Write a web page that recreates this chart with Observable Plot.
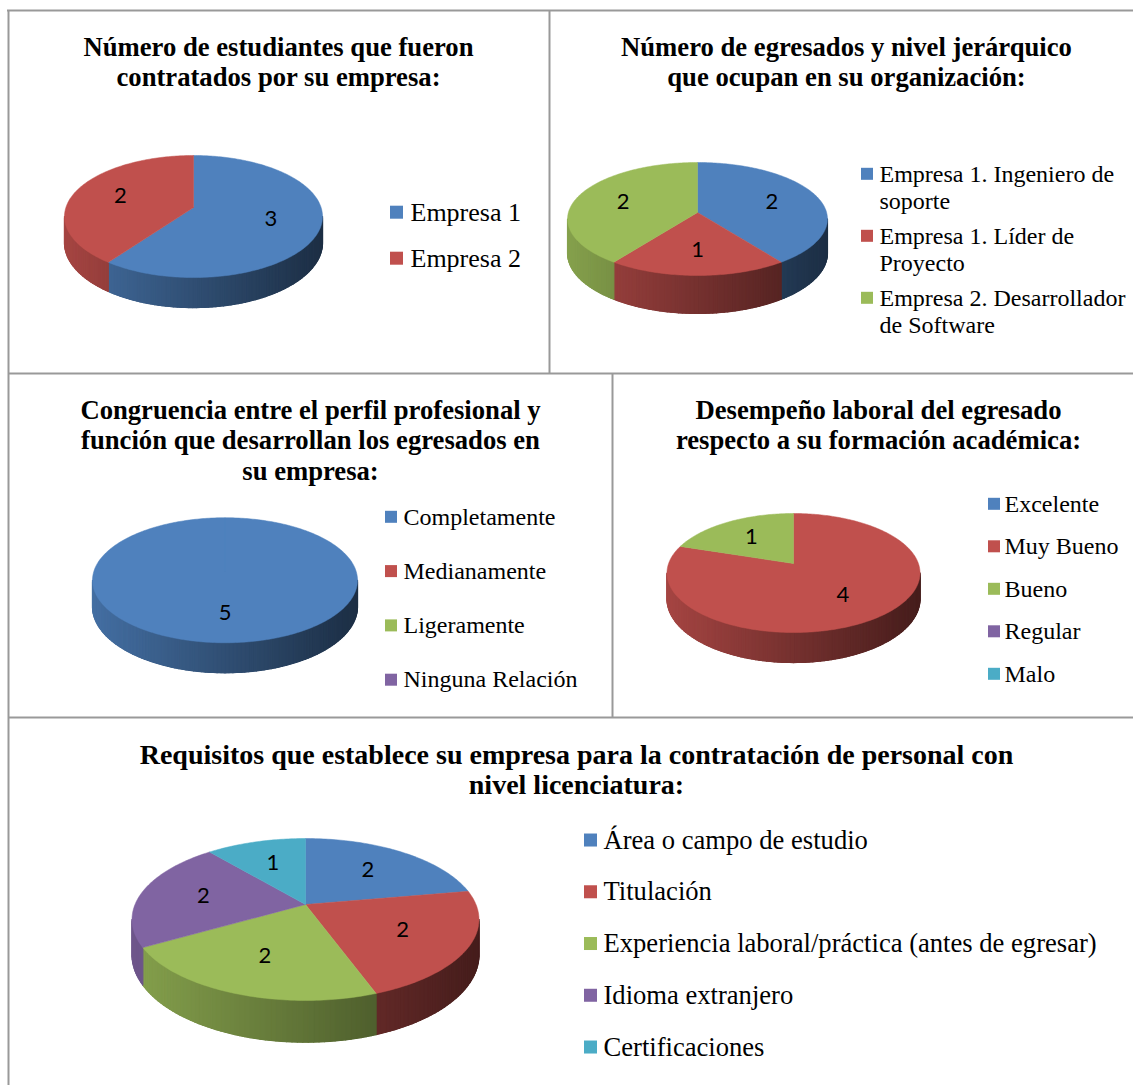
<!DOCTYPE html>
<html><head><meta charset="utf-8">
<script src="https://cdn.jsdelivr.net/npm/d3@7"></script>
<script src="https://cdn.jsdelivr.net/npm/@observablehq/plot@0.6"></script>
<style>body{margin:0;background:#fff;}</style>
</head><body><div id="chart"></div>
<script>
const W = 1133, H = 1085;
const palette = ["#4F81BD", "#C0504D", "#9BBB59", "#8064A2", "#4BACC6"];

const titles = [
  "Número de estudiantes que fueron\ncontratados por su empresa:",
  "Número de egresados y nivel jerárquico\nque ocupan en su organización:",
  "Congruencia entre el perfil profesional y\nfunción que desarrollan los egresados en\nsu empresa:",
  "Desempeño laboral del egresado\nrespecto a su formación académica:",
  "Requisitos que establece su empresa para la contratación de personal con\nnivel licenciatura:"
];
const cats1 = ["Empresa 1", "Empresa 2"];
const vals1 = [3, 2];
const cats2 = ["Empresa 1. Ingeniero de soporte", "Empresa 1. Líder de Proyecto", "Empresa 2. Desarrollador de Software"];
const vals2 = [2, 1, 2];
const cats3 = ["Completamente", "Medianamente", "Ligeramente", "Ninguna Relación"];
const vals3 = [5, 0, 0, 0];
const cats4 = ["Excelente", "Muy Bueno", "Bueno", "Regular", "Malo"];
const vals4 = [0, 4, 1, 0, 0];
const cats5 = ["Área o campo de estudio", "Titulación", "Experiencia laboral/práctica (antes de egresar)", "Idioma extranjero", "Certificaciones"];
const vals5 = [2, 2, 2, 2, 1];

// layout (positions / sizes)
const panels = [
  {title: titles[0], cats: cats1, vals: vals1, tx: 278, tb: 55, tfs: 26.67,
   g: {cx: 193, cy: 207, S: 127.6, T: 59.7, k: 0.148, D: 25.6},
   leg: {sx: 390, side: 13, tx: 410, b0: 220, step: 46, fs: 26}},
  {title: titles[1], cats: cats2, vals: vals2, tx: 846, tb: 55, tfs: 26.67,
   g: {cx: 697, cy: 212, S: 129.1, T: 55.75, k: 0.115, D: 33.6},
   leg: {sx: 861, side: 12, tx: 879, b0: 181, step: 62, fs: 24, wrap: 254, lh: 27.5}},
  {title: titles[2], cats: cats3, vals: vals3, tx: 310, tb: 418, tfs: 26.67,
   g: {cx: 224.5, cy: 571, S: 131.2, T: 61.3, k: 0.14, D: 25.8},
   leg: {sx: 385, side: 12, tx: 403, b0: 524, step: 54.3, fs: 24}},
  {title: titles[3], cats: cats4, vals: vals4, tx: 878, tb: 418, tfs: 26.67,
   g: {cx: 793, cy: 563, S: 124.9, T: 58, k: 0.16, D: 25.2},
   leg: {sx: 988, side: 12, tx: 1004, b0: 511, step: 42.5, fs: 24}},
  {title: titles[4], cats: cats5, vals: vals5, tx: 576, tb: 763, tfs: 28,
   g: {cx: 305, cy: 904, S: 170.5, T: 78.2, k: 0.185, D: 34},
   leg: {sx: 584, side: 13, tx: 603, b0: 848, step: 51.75, fs: 26.6}}
];
const titleStep = 30.5;
const serif = "'Liberation Serif', 'Times New Roman', serif";

const deg = Math.PI / 180;
function proj(g, th, rho, h) {
  const u = rho * Math.sin(th), v = -rho * Math.cos(th);
  const w = 1 - g.k * v;
  return [g.cx + g.S * u / w, g.cy + (g.T * v + g.D * h) / w];
}
function shade(c, f) {
  const r = d3.rgb(c);
  return d3.rgb(r.r * f, r.g * f, r.b * f).formatHex();
}

const wallBase = [], wallRows = [], topRows = [], labelRows = [], titleRows = [], legRects = [], legText = [];
const ctx = document.createElement("canvas").getContext("2d");
function wrap(text, font, maxW) {
  ctx.font = font;
  const words = text.split(" "), lines = [];
  let cur = "";
  for (const w of words) {
    const t = cur ? cur + " " + w : w;
    if (cur && ctx.measureText(t).width > maxW) { lines.push(cur); cur = w; } else cur = t;
  }
  if (cur) lines.push(cur);
  return lines;
}

let pid = 0;
panels.forEach((p, pi) => {
  const g = p.g;
  const total = d3.sum(p.vals);
  const lo = Math.PI / 2 + Math.asin(g.k), hi = 3 * Math.PI / 2 - Math.asin(g.k);
  const Wt = g.S / Math.sqrt(1 - g.k * g.k);
  const fOf = x => 0.86 - 0.5 * (x - (g.cx - Wt)) / (2 * Wt);
  let acc = 0;
  p.vals.forEach((v, i) => {
    if (!v) return;
    const a = acc / total * 2 * Math.PI, b = (acc + v) / total * 2 * Math.PI;
    acc += v;
    const base = palette[i];
    // side wall: a solid underlay, then shaded strips
    const s = Math.max(a, lo), e = Math.min(b, hi);
    if (e > s) {
      const n = Math.ceil((e - s) / (1.5 * deg));
      const bid = "b" + (pid++);
      const topArc = d3.range(n + 1).map(j => proj(g, s + (e - s) * j / n, 1, 0));
      const botArc = d3.range(n + 1).map(j => proj(g, s + (e - s) * j / n, 1, 1)).reverse();
      const mid = proj(g, (s + e) / 2, 1, 0);
      const bcol = shade(base, fOf(mid[0]));
      [...topArc, ...botArc, topArc[0]].forEach(q => wallBase.push({id: bid, x: q[0], y: q[1], fill: bcol}));
      for (let j = 0; j < n; j++) {
        const t1 = s + (e - s) * j / n, t2 = s + (e - s) * (j + 1) / n;
        const pts = [proj(g, t1, 1, 0), proj(g, t2, 1, 0), proj(g, t2, 1, 1), proj(g, t1, 1, 1)];
        const col = shade(base, fOf((pts[0][0] + pts[1][0]) / 2));
        const id = "w" + (pid++);
        [...pts, pts[0]].forEach(q => wallRows.push({id, x: q[0], y: q[1], fill: col}));
      }
    }
    // top face
    const id = "t" + (pid++);
    const c = proj(g, 0, 0, 0);
    topRows.push({id, x: c[0], y: c[1], fill: base});
    const m = Math.max(2, Math.ceil((b - a) / deg));
    for (let j = 0; j <= m; j++) {
      const q = proj(g, a + (b - a) * j / m, 1, 0);
      topRows.push({id, x: q[0], y: q[1], fill: base});
    }
    topRows.push({id, x: c[0], y: c[1], fill: base});
    // label
    const lp = proj(g, (a + b) / 2, 0.62, 0);
    labelRows.push({x: lp[0], y: lp[1], text: String(v)});
  });
  // title
  p.title.split("\n").forEach((line, j) => titleRows.push({x: p.tx, y: p.tb + j * titleStep, text: line, fs: p.tfs}));
  // legend
  const L = p.leg;
  p.cats.forEach((cat, i) => {
    const b = L.b0 + i * L.step;
    const lines = L.wrap ? wrap(cat, `${L.fs}px ${serif}`, L.wrap) : [cat];
    const cy = b - 0.3 * L.fs;
    legRects.push({x1: L.sx, x2: L.sx + L.side, y1: cy - L.side / 2, y2: cy + L.side / 2, fill: palette[i]});
    lines.forEach((ln, j) => legText.push({x: L.tx, y: b + j * (L.lh || 0), text: ln, fs: L.fs}));
  });
});

const grid = {top: 10, left: 8, rows: [373, 717], col1: 549, col2: 612};
const hLines = [
  {y: grid.top, x1: grid.left - 1, x2: W},
  {y: grid.rows[0], x1: grid.left, x2: W},
  {y: grid.rows[1], x1: grid.left, x2: W}
];
const vLines = [
  {x: grid.left, y1: grid.top, y2: H},
  {x: grid.col1, y1: grid.top, y2: grid.rows[0]},
  {x: grid.col2, y1: grid.rows[0], y2: grid.rows[1]}
];

const chart = Plot.plot({
  width: W, height: H, margin: 0,
  x: {domain: [0, W], range: [0, W], axis: null},
  y: {domain: [0, H], range: [0, H], axis: null},
  color: {type: "identity"},
  style: {background: "#fff"},
  marks: [
    Plot.ruleY(hLines, {y: "y", x1: "x1", x2: "x2", stroke: "#999", strokeWidth: 2}),
    Plot.ruleX(vLines, {x: "x", y1: "y1", y2: "y2", stroke: "#999", strokeWidth: 2}),
    Plot.line(wallBase, {x: "x", y: "y", z: "id", fill: "fill", stroke: "fill", strokeWidth: 0.5, curve: "linear"}),
    Plot.line(wallRows, {x: "x", y: "y", z: "id", fill: "fill", stroke: "fill", strokeWidth: 1.2, curve: "linear"}),
    Plot.line(topRows, {x: "x", y: "y", z: "id", fill: "fill", stroke: "fill", strokeWidth: 0.5, curve: "linear"}),
    Plot.text(labelRows, {x: "x", y: "y", text: "text", fill: "#000", fontFamily: "Lato, 'Open Sans', sans-serif", fontSize: 22, textAnchor: "middle", lineAnchor: "middle"}),
    ...d3.groups(titleRows, d => d.fs).map(([fs, rows]) =>
      Plot.text(rows, {x: "x", y: "y", text: "text", fill: "#000", fontFamily: serif, fontWeight: "bold", fontSize: fs, textAnchor: "middle", lineAnchor: "bottom"})),
    Plot.rect(legRects, {x1: "x1", x2: "x2", y1: "y1", y2: "y2", fill: "fill"}),
    ...d3.groups(legText, d => d.fs).map(([fs, rows]) =>
      Plot.text(rows, {x: "x", y: "y", text: "text", fill: "#000", fontFamily: serif, fontSize: fs, textAnchor: "start", lineAnchor: "bottom"}))
  ]
});
document.getElementById("chart").appendChild(chart);
</script>
</body></html>
